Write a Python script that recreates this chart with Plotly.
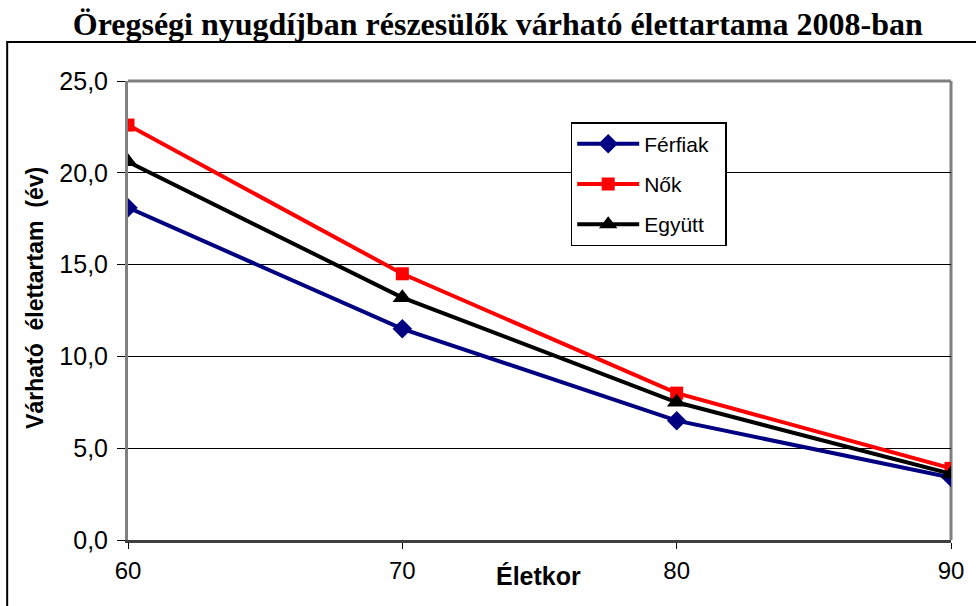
import plotly.graph_objects as go

ages = [60, 70, 80, 90]
ferfiak = [18.1, 11.5, 6.5, 3.4]
nok = [22.6, 14.5, 8.0, 3.9]
egyutt = [20.6, 13.2, 7.5, 3.6]

series_names = ["Férfiak", "Nők", "Együtt"]
colors = ["#000080", "#FF0000", "#000000"]
symbols = ["diamond", "square", "triangle-up"]
sizes = [15, 13, 17]

title = "Öregségi nyugdíjban részesülők várható élettartama 2008-ban"
y_title = "Várható  élettartam  (év)"
x_title = "Életkor"
x_ticks = [60, 70, 80, 90]
y_ticks = [0, 5, 10, 15, 20, 25]

W, H = 976, 606
L, R, T, B = 128, 17, 81, 66
pw, ph = W - L - R, H - T - B

fig = go.Figure()
for i, (name, vals) in enumerate(zip(series_names, [ferfiak, nok, egyutt])):
    fig.add_trace(go.Scatter(
        x=ages, y=vals, name=name + "\u00a0\u00a0", mode="lines+markers",
        line=dict(color=colors[i], width=4),
        marker=dict(symbol=symbols[i], size=sizes[i], color=colors[i]),
        legendgroup=name,
    ))

fig.update_layout(
    width=W, height=H,
    margin=dict(l=L, r=R, t=T, b=B),
    paper_bgcolor="white", plot_bgcolor="white",
    separators=", ",
    font=dict(family="Liberation Sans, Arial, sans-serif", color="black"),
    title=dict(text="<b>" + title + "</b>", x=0.51, xanchor="center",
               y=1 - 24 / H, yanchor="middle",
               font=dict(family="Liberation Serif, Times New Roman, serif", size=32, color="black")),
    showlegend=True,
    legend=dict(x=(575 - L) / pw, y=(540 - 122) / ph, xanchor="left", yanchor="top",
                bgcolor="white", bordercolor="black", borderwidth=1.5,
                font=dict(size=21, family="Liberation Sans, Arial, sans-serif"),
                tracegroupgap=10, traceorder="grouped", itemwidth=62),
    xaxis=dict(range=[60, 90], tickvals=x_ticks, ticktext=[str(t) for t in x_ticks],
               showgrid=False, zeroline=False, showline=True, linecolor="#404040", linewidth=3,
               mirror=False, ticks="outside", ticklen=6, tickcolor="black", tickwidth=1,
               tickfont=dict(size=24), ticklabelstandoff=1),
    yaxis=dict(range=[0, 25], tickvals=y_ticks, tickformat=".1f",
               showgrid=True, gridcolor="black", gridwidth=1, zeroline=False,
               showline=True, linecolor="#808080", linewidth=3, mirror=False,
               ticks="outside", ticklen=8, tickcolor="black", tickwidth=1,
               tickfont=dict(size=25), ticklabelstandoff=4),
    annotations=[
        dict(text="<b>" + y_title + "</b>", xref="paper", yref="paper",
             x=(34 - L) / pw, y=(540 - 298) / ph, xanchor="center", yanchor="middle",
             textangle=-90, showarrow=False, font=dict(size=23)),
        dict(text="<b>" + x_title + "</b>", xref="paper", yref="paper",
             x=(542 - L) / pw, y=(540 - 576) / ph, xanchor="center", yanchor="middle",
             showarrow=False, font=dict(size=25)),
    ],
    shapes=[
        dict(type="line", xref="paper", yref="paper", x0=0, x1=1, y0=1, y1=1,
             line=dict(color="#808080", width=3), layer="below"),
        dict(type="line", xref="paper", yref="paper", x0=1, x1=1, y0=0, y1=1,
             line=dict(color="#808080", width=3), layer="below"),
        dict(type="rect", xref="paper", yref="paper",
             x0=(6 - L) / pw, x1=(W + 10 - L) / pw,
             y0=(540 - H - 10) / ph, y1=(540 - 42) / ph,
             line=dict(color="black", width=2), fillcolor="rgba(0,0,0,0)", layer="below"),
    ],
)

fig.write_html("out.html", config={"displayModeBar": False},
               post_script="document.body.style.margin='0';document.body.style.overflow='hidden';")
